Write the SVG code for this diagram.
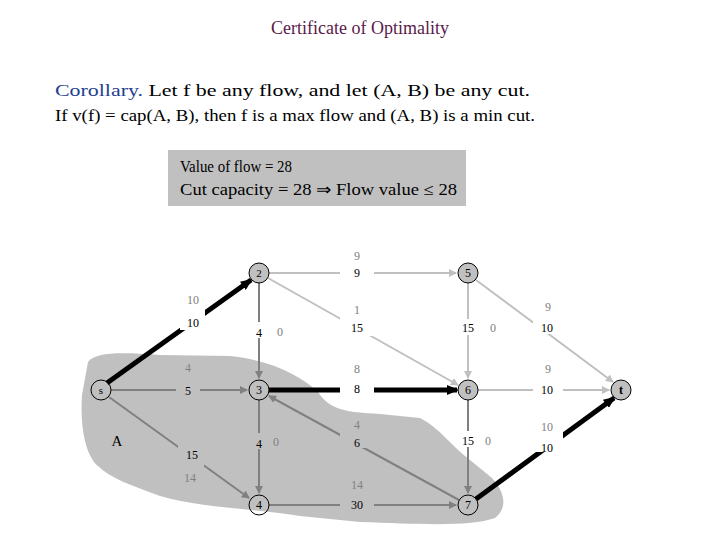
<svg xmlns="http://www.w3.org/2000/svg" width="720" height="540" viewBox="0 0 720 540">
<style>
text{font-family:"Liberation Serif",serif}
.t{font-size:16px;fill:#000}
.l{font-size:12px;text-anchor:middle;fill:#000}
.g{font-size:12px;text-anchor:middle;fill:#808080}
.n{fill:none;stroke:#000;stroke-width:1}
.f{fill:#c0c0c0;stroke:#000;stroke-width:1}
.lt{stroke:#c0c0c0;stroke-width:2;fill:none}
.md{stroke:#808080;stroke-width:2;fill:none}
.bk{stroke:#000;stroke-width:5;fill:none}
</style>
<defs>
<marker id="al" markerWidth="8" markerHeight="8" refX="7" refY="4" orient="auto" markerUnits="userSpaceOnUse"><path d="M0,0L8,4L0,8z" fill="#c0c0c0"/></marker>
<marker id="am" markerWidth="8" markerHeight="8" refX="7" refY="4" orient="auto" markerUnits="userSpaceOnUse"><path d="M0,0L8,4L0,8z" fill="#808080"/></marker>
<marker id="ab" markerWidth="12" markerHeight="10" refX="10" refY="5" orient="auto" markerUnits="userSpaceOnUse"><path d="M0,0L12,5L0,10z" fill="#000"/></marker>
</defs>
<rect width="720" height="540" fill="#fff"/>
<text x="360" y="34" text-anchor="middle" style="font-size:18px;fill:#5a1a4a">Certificate of Optimality</text>
<text x="55" y="96" class="t" textLength="475" lengthAdjust="spacingAndGlyphs"><tspan fill="#1f3f8f">Corollary.</tspan>  Let f be any flow, and let (A, B) be any cut.</text>
<text x="55" y="121" class="t" textLength="480" lengthAdjust="spacingAndGlyphs">If v(f) = cap(A, B), then f is a max flow and (A, B) is a min cut.</text>
<rect x="168" y="150" width="298" height="56" fill="#c0c0c0"/>
<text x="180" y="172" class="t" textLength="112" lengthAdjust="spacingAndGlyphs">Value of flow = 28</text>
<text x="180" y="195" class="t" textLength="277" lengthAdjust="spacingAndGlyphs">Cut capacity  = 28  ⇒   Flow value ≤ 28</text>
<path id="regionA" d="M88,362 C95,352 120,352 160,355 L230,356 C270,360 300,375 318,392 C330,410 345,412 380,414 L420,418 C440,428 450,445 470,460 L492,478 C505,492 508,508 495,518 C470,527 420,524 360,522 L300,516 C250,508 200,508 160,496 C130,485 110,478 98,466 C85,455 80,425 82,395 Z" fill="#c0c0c0"/>
<g id="connectors">
<line x1="269" y1="273" x2="456" y2="273" class="lt" marker-end="url(#al)"/>
<line x1="268" y1="278" x2="458" y2="385" class="lt" marker-end="url(#al)"/>
<line x1="468" y1="283" x2="468" y2="378" class="lt" marker-end="url(#al)"/>
<line x1="476" y1="280" x2="613" y2="382" class="lt" marker-end="url(#al)"/>
<line x1="478" y1="390" x2="609" y2="390" class="lt" marker-end="url(#al)"/>
<line x1="111" y1="390" x2="247" y2="390" class="md" marker-end="url(#am)"/>
<line x1="109" y1="397" x2="249" y2="498" class="md" marker-end="url(#am)"/>
<line x1="259" y1="283" x2="259" y2="378" class="md" marker-end="url(#am)"/>
<line x1="259" y1="400" x2="259" y2="493" class="md" marker-end="url(#am)"/>
<line x1="459" y1="500" x2="269" y2="396" class="md" marker-end="url(#am)"/>
<line x1="269" y1="505" x2="456" y2="505" class="md" marker-end="url(#am)"/>
<line x1="468" y1="400" x2="468" y2="493" class="md" marker-end="url(#am)"/>
<line x1="107" y1="383" x2="251" y2="280" class="bk" marker-end="url(#ab)"/>
<line x1="269" y1="390" x2="457" y2="390" class="bk" marker-end="url(#ab)"/>
<line x1="476" y1="499" x2="614" y2="398" class="bk" marker-end="url(#ab)"/>
</g>
<g id="labelbg" fill="#fff">
<rect x="180" y="290" width="25" height="40"/><rect x="340" y="246" width="34" height="32"/><rect x="340" y="300" width="34" height="36"/><rect x="340" y="360" width="34" height="34"/><rect x="250" y="322" width="18" height="16"/><rect x="455" y="319" width="26" height="16"/><rect x="533" y="298" width="30" height="36"/><rect x="533" y="360" width="30" height="34"/><rect x="455" y="431" width="26" height="16"/><rect x="533" y="418" width="30" height="34"/>
</g>
<g id="labelbg2" fill="#c0c0c0">
<rect x="176" y="358" width="24" height="38"/><rect x="178" y="445" width="26" height="38"/><rect x="250" y="433" width="18" height="16"/><rect x="340" y="415" width="34" height="33"/><rect x="340" y="475" width="34" height="34"/>
</g>
<g id="labels">
<text x="193" y="304" class="g">10</text><text x="193" y="327" class="l">10</text>
<text x="188" y="372" class="g">4</text><text x="188" y="395" class="l">5</text>
<text x="192" y="459" class="l">15</text><text x="190" y="482" class="g">14</text>
<text x="259" y="337" class="l">4</text><text x="280" y="336" class="g">0</text>
<text x="259" y="448" class="l">4</text><text x="276" y="446" class="g">0</text>
<text x="357" y="260" class="g">9</text><text x="357" y="277" class="l">9</text>
<text x="357" y="314" class="g">1</text><text x="357" y="332" class="l">15</text>
<text x="357" y="373" class="g">8</text><text x="357" y="393" class="l">8</text>
<text x="357" y="429" class="g">4</text><text x="357" y="447" class="l">6</text>
<text x="357" y="489" class="g">14</text><text x="357" y="509" class="l">30</text>
<text x="468" y="332" class="l">15</text><text x="493" y="332" class="g">0</text>
<text x="468" y="445" class="l">15</text><text x="488" y="445" class="g">0</text>
<text x="548" y="311" class="g">9</text><text x="547" y="332" class="l">10</text>
<text x="548" y="373" class="g">9</text><text x="547" y="394" class="l">10</text>
<text x="547" y="431" class="g">10</text><text x="547" y="452" class="l">10</text>
<text x="117" y="446" style="font-size:15px" text-anchor="middle">A</text>
</g>
<g id="node-s"><circle cx="101" cy="390" r="10" class="n"/><text x="101" y="394" class="l" style="font-size:11px">s</text></g>
<g id="node-2"><circle cx="259" cy="273" r="10" class="f"/><text x="259" y="277" class="l" style="font-size:11px">2</text></g>
<g id="node-3"><circle cx="259" cy="390" r="10" class="n"/><text x="259" y="394" class="l">3</text></g>
<g id="node-4"><circle cx="259" cy="505" r="10" class="n"/><text x="259" y="509" class="l">4</text></g>
<g id="node-5"><circle cx="468" cy="273" r="10" class="f"/><text x="468" y="277" class="l">5</text></g>
<g id="node-6"><circle cx="468" cy="390" r="10" class="f"/><text x="468" y="394" class="l">6</text></g>
<g id="node-7"><circle cx="468" cy="505" r="10" class="n"/><text x="468" y="509" class="l">7</text></g>
<g id="node-t"><circle cx="621" cy="390" r="10" class="f"/><text x="621" y="394" class="l" style="font-weight:bold">t</text></g>
</svg>
